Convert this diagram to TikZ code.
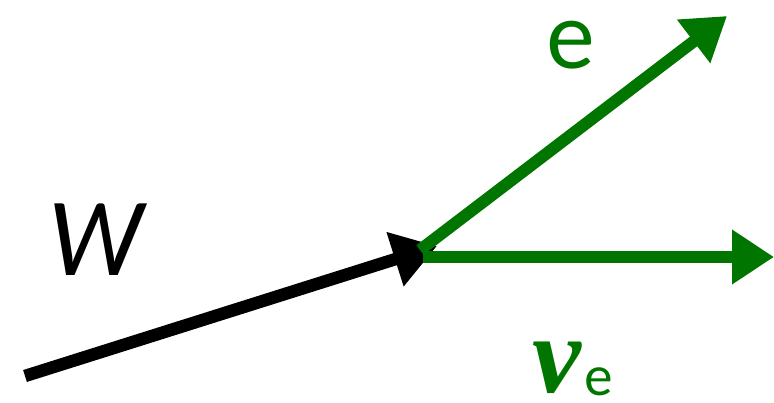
\documentclass[tikz,border=0pt]{standalone}
\usepackage{fontspec}
\setmainfont{Lato}
\newfontfamily\nufont{Liberation Serif}
\usepackage{xcolor}
\usepackage{tikz}
\usetikzlibrary{arrows.meta,positioning}
\definecolor{leptongreen}{RGB}{0,118,0}

\begin{document}
\begin{tikzpicture}[x=1pt, y=-1pt, every node/.style={font=\fontsize{100}{100}\selectfont, inner sep=0pt}, boson/.style={line width=12.5pt, -{Triangle[length=44pt,width=54pt]}}, lepton/.style={line width=12pt, draw=leptongreen, -{Triangle[length=42pt,width=52pt]}, color=leptongreen}, lbl/.style={text=leptongreen}]
\useasboundingbox (0,0) rectangle (774,403);
\coordinate (wstart) at (25,376); \coordinate (vertex) at (437,246);
\coordinate (espot) at (420,250); \coordinate (etip) at (727,16);
\coordinate (nustart) at (423,257); \coordinate (nutip) at (774,257);
\node (wlbl) at (96,240) {\itshape W};
\node[lbl, font=\fontsize{92}{92}\selectfont] (elbl) at (571,45) {e};
\node[lbl, anchor=base west] (nulbl) at (532,392) {{\nufont\fontsize{110}{110}\selectfont\bfseries\itshape ν}\kern3pt\raisebox{-3pt}{\fontsize{54}{54}\selectfont e}};
\draw[boson] (wstart) -- (vertex); \draw[lepton] (espot) -- (etip); \draw[lepton] (nustart) -- (nutip);
\end{tikzpicture}
\end{document}
